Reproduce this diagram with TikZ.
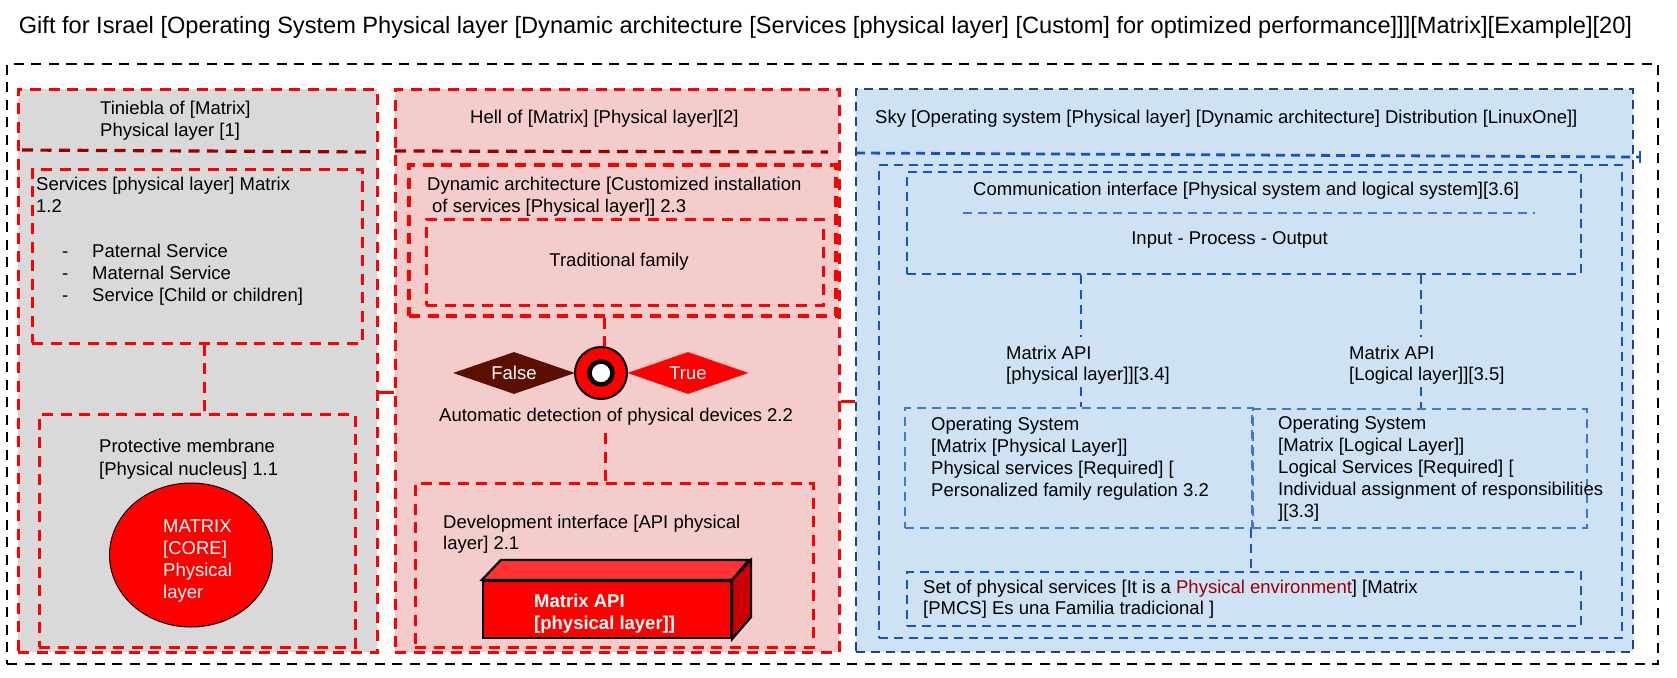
\documentclass[tikz,border=0pt]{standalone}
\usepackage{fontspec}
\setmainfont{Liberation Sans}
\usetikzlibrary{fit,shapes.geometric}
\definecolor{gpanel}{HTML}{D9D9D9}
\definecolor{ppanel}{HTML}{F4CCCC}
\definecolor{bpanel}{HTML}{CFE2F3}
\definecolor{dred}{HTML}{990000}
\definecolor{falsebrown}{HTML}{5B0F00}
\definecolor{bdark}{HTML}{1C4587}
\definecolor{bmid}{HTML}{1155CC}
\definecolor{blight}{HTML}{3C78D8}
\definecolor{envred}{HTML}{990000}
\definecolor{redtop}{HTML}{FF3333}
\definecolor{redside}{HTML}{CC0000}
\newcommand{\bodyfont}{\fontsize{18.5}{22}\selectfont}
\newcommand{\titlefont}{\fontsize{23.6}{28}\selectfont}
\begin{document}
\begin{tikzpicture}[x=1pt,y=-1pt,
  txt/.style={anchor=base west, inner sep=0pt, font=\bodyfont, text=black},
  wtxt/.style={txt, text=white},
  redbox/.style={draw=red, line width=3pt, dash pattern=on 11pt off 7.5pt, inner sep=0pt},
  redline/.style={draw=red, line width=3pt, dash pattern=on 11pt off 7.5pt},
  divred/.style={draw=dred, line width=3.2pt, dash pattern=on 11pt off 7.5pt},
  bluebox/.style={draw=bmid, line width=2.8pt, dash pattern=on 9pt off 6pt, inner sep=0pt},
  blueline/.style={draw=bmid, line width=2.8pt, dash pattern=on 9pt off 6pt},
  blackbox/.style={draw=black, line width=2.8pt, dash pattern=on 10pt off 7.5pt, inner sep=0pt},
  solidlink/.style={draw=red, line width=3pt},
  edgeline/.style={draw=black, line width=2.2pt, line join=miter}]
\useasboundingbox (0,0) rectangle (1677,677);

% title
\node[anchor=base, inner sep=0pt, font=\titlefont] (title) at (825.5,34)
  {Gift for Israel [Operating System Physical layer [Dynamic architecture [Services [physical layer] [Custom] for optimized performance]]][Matrix][Example][20]};

% outer frame
\node[blackbox, fit={(7,64) (1658,664)}] (outer) {};

% ---------- panel 1 (gray) ----------
\node[redbox, fill=gpanel, fit={(18,89) (377,652)}] (gray) {};
\draw[divred] (22,150) -- (370,152);
\node[txt] (t1a) at (100,114.5) {Tiniebla of [Matrix]};
\node[txt] (t1b) at (100,136.5) {Physical layer [1]};
\node[redbox, fit={(32,169) (362,343)}] (services) {};
\node[txt] (s1) at (36,190.5) {Services [physical layer] Matrix};
\node[txt] (s2) at (36,212.5) {1.2};
\node[txt] (d1) at (62,257.5) {-};
\node[txt] (d2) at (62,279.5) {-};
\node[txt] (d3) at (62,301.5) {-};
\node[txt] (b1) at (92,257.5) {Paternal Service};
\node[txt] (b2) at (92,279.5) {Maternal Service};
\node[txt] (b3) at (92,301.5) {Service [Child or children]};
\node[redbox, fit={(39,414) (355,647)}] (membrane) {};
\coordinate (cx1) at (204,0);
\draw[redline] (services.south -| cx1) -- (membrane.north -| cx1);
\node[txt] (m1) at (99,452.5) {Protective membrane};
\node[txt] (m2) at (99,475.5) {[Physical nucleus] 1.1};
\node[ellipse, draw=black, line width=1pt, fill=red, minimum width=163pt, minimum height=144pt, inner sep=0pt] (core) at (191,555) {};
\node[wtxt] (c1) at (163,532.5) {MATRIX};
\node[wtxt] (c2) at (163,554.5) {[CORE]};
\node[wtxt] (c3) at (163,576.5) {Physical};
\node[wtxt] (c4) at (163,598.5) {layer};

% ---------- panel 2 (pink) ----------
\node[redbox, fill=ppanel, fit={(395,89) (839,652)}] (pink) {};
\draw[divred] (395,151) -- (828,152);
\coordinate (cy1) at (0,392);
\draw[solidlink] (gray.east |- cy1) -- (pink.west |- cy1);
\node[txt] (h2) at (470,123.5) {Hell of [Matrix] [Physical layer][2]};
\node[redbox, line width=3.8pt, fit={(409,165) (836,316)}] (dynarch) {};
\node[txt] (da1) at (427,190.5) {Dynamic architecture [Customized installation};
\node[txt] (da2) at (432,212.5) {of services [Physical layer]] 2.3};
\node[redbox, fit={(426,219) (823,305)}] (tradfam) {};
\node[anchor=base, inner sep=0pt, font=\bodyfont] (tf) at (619,266.5) {Traditional family};
\node[circle, draw=black, line width=2pt, fill=red, minimum size=52pt, inner sep=0pt] (ring) at (601,373) {};
\node[circle, draw=black, line width=4.5pt, fill=white, minimum size=23pt, inner sep=0pt] (ringin) at (601,373) {};
\coordinate (cx2) at (604,0);
\draw[redline] (dynarch.south -| cx2) -- (ring.north -| cx2);
\node[diamond, aspect=2.9, fill=falsebrown, minimum width=122pt, minimum height=42pt, inner sep=0pt, text=white, font=\bodyfont] (false) at (514,373) {False};
\node[diamond, aspect=2.9, fill=red, minimum width=121pt, minimum height=42pt, inner sep=0pt, text=white, font=\bodyfont] (true) at (688,373) {True};
\node[txt] (auto) at (439,421.5) {Automatic detection of physical devices 2.2};
\node[redbox, fit={(415,483) (813,647)}] (devif) {};
\coordinate (cy2) at (0,433);
\coordinate (cx3) at (605,0);
\draw[redline] (cx3 |- cy2) -- (devif.north -| cx3);
\node[txt] (di1) at (443,528.5) {Development interface [API physical};
\node[txt] (di2) at (443,549.5) {layer] 2.1};
\node[edgeline, fill=red, inner sep=0pt, fit={(483,581) (731,638)}] (api) {};
\draw[edgeline, fill=redtop] (api.north west) -- ++(19,-20) -- ++(248,0) -- (api.north east) -- cycle;
\draw[edgeline, fill=redside] (api.north east) -- ++(19,-20) -- ++(0,57) -- (api.south east) -- cycle;
\node[wtxt, font=\bodyfont\bfseries] (api1) at (534,607.5) {Matrix API};
\node[wtxt, font=\bodyfont\bfseries] (api2) at (534,629.5) {[physical layer]]};

% ---------- panel 3 (blue) ----------
\node[draw=bdark, line width=2.8pt, dash pattern=on 9pt off 6pt, inner sep=0pt, fill=bpanel, fit={(856,89) (1633,652)}] (sky) {};
\coordinate (cy3) at (0,401);
\draw[solidlink] (pink.east |- cy3) -- (sky.west |- cy3);
\node[txt] (skyt) at (875,123.5) {Sky [Operating system [Physical layer] [Dynamic architecture] Distribution [LinuxOne]]};
\draw[blueline] (856,153) -- (1640,157);
\draw[draw=bmid, line width=2pt] (1640,151) -- (1640,163);
\node[bluebox, fit={(879,165) (1622,638)}] (body) {};
\node[bluebox, fit={(907,172) (1581,274)}] (comm) {};
\node[txt] (ct) at (973,195.5) {Communication interface [Physical system and logical system][3.6]};
\draw[draw=blight, line width=2.2pt, dash pattern=on 9pt off 6pt] (963,213) -- (1535,213);
\node[anchor=base, inner sep=0pt, font=\bodyfont] (ipo) at (1229.5,244.5) {Input - Process - Output};
\node[draw=blight, line width=2.8pt, dash pattern=on 9pt off 6pt, inner sep=0pt, fit={(905,408) (1253,528)}] (osl) {};
\node[draw=blight, line width=2.8pt, dash pattern=on 9pt off 6pt, inner sep=0pt, fit={(1252,409) (1587,528)}] (osr) {};
\coordinate (la1) at (1081,337);
\coordinate (la2) at (1081,387);
\coordinate (lb1) at (1421,337);
\coordinate (lb2) at (1421,387);
\draw[blueline] (comm.south -| la1) -- (la1);
\draw[blueline] (la2) -- (osl.north -| la2);
\draw[blueline] (comm.south -| lb1) -- (lb1);
\draw[blueline] (lb2) -- (osr.north -| lb2);
\node[txt] (ml1) at (1006,359.5) {Matrix API};
\node[txt] (ml2) at (1006,380.5) {[physical layer]][3.4]};
\node[txt] (mr1) at (1349,359.5) {Matrix API};
\node[txt] (mr2) at (1349,380.5) {[Logical layer]][3.5]};
\node[txt] (ol1) at (931,430.5) {Operating System};
\node[txt] (ol2) at (931,452.5) {[Matrix [Physical Layer]]};
\node[txt] (ol3) at (931,474.5) {Physical services [Required] [};
\node[txt] (ol4) at (931,496.5) {Personalized family regulation 3.2};
\node[txt] (or1) at (1278,429.5) {Operating System};
\node[txt] (or2) at (1278,451.5) {[Matrix [Logical Layer]]};
\node[txt] (or3) at (1278,473.5) {Logical Services [Required] [};
\node[txt] (or4) at (1278,495.5) {Individual assignment of responsibilities};
\node[txt] (or5) at (1278,517.5) {][3.3]};
\node[bluebox, fit={(907,572) (1581,626)}] (setps) {};
\coordinate (cx4) at (1251,0);
\draw[blueline] (osl.south -| cx4) -- (setps.north -| cx4);
\node[txt] (sp1) at (923,593.5) {Set of physical services [It is a \textcolor{envred}{Physical environment}] [Matrix};
\node[txt] (sp2) at (923,614.5) {[PMCS] Es una Familia tradicional ]};
\end{tikzpicture}
\end{document}
